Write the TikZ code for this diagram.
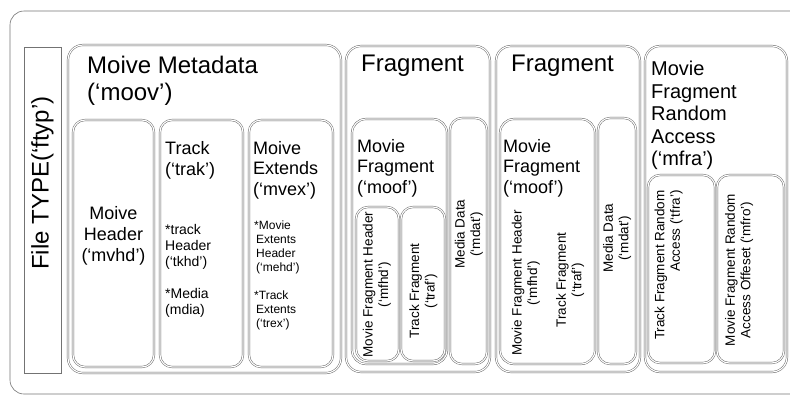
\documentclass[tikz,border=0pt]{standalone}
\usepackage{fontspec}
\setmainfont{Liberation Sans}
\begin{document}
\begin{tikzpicture}[x=1pt,y=-1pt,
  every node/.style={inner sep=0pt, text=black},
  box/.style={draw=black!62, line width=0.45pt, double=white, double distance=1.2pt, rounded corners=#1},
  box/.default=12pt,
  frame/.style={draw=black!55, line width=0.6pt},
  fs/.style n args={2}{font=\fontsize{#1}{#2}\selectfont},
  vtext/.style={rotate=90, align=center, fs={13.5}{15.5}},
]
\useasboundingbox (0,0) rectangle (790,397);

% outer container
\draw[frame, rounded corners=14pt] (10,11) rectangle (810,394);

% file type box
\draw[frame] (24,47) rectangle (61,373);
\node[rotate=90, fs={24}{28}] (ftyp) at (42.5,183) {File TYPE(‘ftyp’)};

% movie metadata
\draw[box=15pt] (68,45) rectangle (341,373);
\node[anchor=north west, align=left, fs={24}{27}] (moov) at (87,56) {Moive Metadata\\(‘moov’)};

\draw[box] (73,120) rectangle (154,367);
\node[anchor=north, align=center, fs={18}{21}] (mvhd) at (113.5,206) {Moive\\Header\\(‘mvhd’)};

\draw[box] (160,120) rectangle (243,367);
\node[anchor=north west, align=left, fs={18}{21}] (trak) at (165,141) {Track\\(‘trak’)};
\node[anchor=north west, align=left, fs={14}{16}] (trakitems) at (165,224)
  {*track\\Header\\(‘tkhd’)\\[16pt]*Media\\(mdia)};

\draw[box] (249,120) rectangle (333,367);
\node[anchor=north west, align=left, fs={18}{20.5}] (mvex) at (253,141) {Moive\\Extends\\(‘mvex’)};
\node[anchor=north west, align=left, fs={12}{14}] (mvexitems) at (254,220.5)
  {*Movie\\\,Extents\\\,Header\\\,(‘mehd’)\\[14pt]*Track\\\,Extents\\\,(‘trex’)};

% first fragment
\draw[box=15pt] (346,46) rectangle (490,372);
\node[anchor=north west, fs={24}{27}] (frag1) at (361,55) {Fragment};
\draw[box=14pt] (352,119) rectangle (447,364);
\node[anchor=north west, align=left, fs={18}{20.5}] (moof1) at (357,139) {Movie\\Fragment\\(‘moof’)};
\draw[box] (356,207) rectangle (399,361);
\node[vtext] (mfhd1) at (377,284.5) {Movie Fragment Header\\(‘mfhd’)};
\draw[box] (401,207) rectangle (445,361);
\node[vtext] (traf1) at (423.5,291) {Track Fragment\\(‘traf’)};
\draw[box] (450,118) rectangle (487,364);
\node[vtext] (mdat1) at (469,234) {Media Data\\(‘mdat’)};

% second fragment
\draw[box=15pt] (496,46) rectangle (640,372);
\node[anchor=north west, fs={24}{27}] (frag2) at (511,55) {Fragment};
\draw[box=14pt] (500,119) rectangle (595,364);
\node[anchor=north west, align=left, fs={18}{20.5}] (moof2) at (503,139) {Movie\\Fragment\\(‘moof’)};
\node[vtext] (mfhd2) at (526,283) {Movie Fragment Header\\(‘mfhd’)};
\node[vtext] (traf2) at (570,280) {Track Fragment\\(‘traf’)};
\draw[box] (598,118) rectangle (636,364);
\node[vtext] (mdat2) at (617,238) {Media Data\\(‘mdat’)};

% movie fragment random access
\draw[box=15pt] (645,46) rectangle (787,372);
\node[anchor=north west, align=left, fs={20}{22.5}] (mfra) at (651,61)
  {Movie\\Fragment\\Random\\Access\\(‘mfra’)};
\draw[box] (648,175) rectangle (715,363);
\node[vtext, align=right] (tfra) at (668.5,265) {Track Fragment Random\\Access (‘tfra’)};
\draw[box] (717,175) rectangle (784,363);
\node[vtext] (mfro) at (739,270) {Movie Fragment Random\\Access Offeset (‘mfro’)};
\end{tikzpicture}
\end{document}
